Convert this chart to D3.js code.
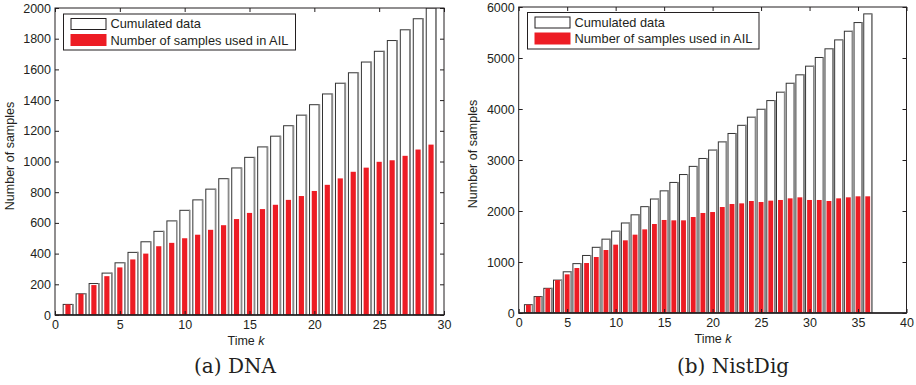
<!DOCTYPE html>
<html>
<head>
<meta charset="utf-8">
<script src="https://cdn.jsdelivr.net/npm/d3@7"></script>
<style>
  body { margin: 0; background: #fff; }
  svg { display: block; font-family: "Liberation Sans", Arial, sans-serif; }
</style>
</head>
<body>
<svg id="chart" width="916" height="385"></svg>
<script>
// DNA panel
const dnaK = [1, 2, 3, 4, 5, 6, 7, 8, 9, 10, 11, 12, 13, 14, 15, 16, 17, 18, 19, 20, 21, 22, 23, 24, 25, 26, 27, 28, 29];
const dnaCumulated = [69, 138, 205, 273, 340, 408, 477, 545, 613, 682, 750, 820, 888, 958, 1027, 1095, 1165, 1233, 1302, 1370,
  1440, 1510, 1578, 1648, 1718, 1788, 1858, 1930, 2000];
const dnaUsed = [69, 138, 195, 253, 310, 362, 400, 448, 470, 500, 523, 555, 585, 625, 665, 690, 718, 750, 775, 808,
  848, 890, 933, 960, 998, 1008, 1037, 1078, 1110];
const dnaXTicks = [0, 5, 10, 15, 20, 25, 30];
const dnaYTicks = [0, 200, 400, 600, 800, 1000, 1200, 1400, 1600, 1800, 2000];

// NistDig panel
const nistK = [1, 2, 3, 4, 5, 6, 7, 8, 9, 10, 11, 12, 13, 14, 15, 16, 17, 18, 19, 20, 21, 22, 23, 24, 25, 26, 27, 28, 29, 30,
  31, 32, 33, 34, 35, 36];
const nistCumulated = [163, 322, 484, 645, 808, 968, 1128, 1288, 1448, 1605, 1765, 1925, 2085, 2235, 2395, 2560, 2715, 2875,
  3030, 3195, 3355, 3520, 3680, 3840, 3995, 4165, 4330, 4505, 4670, 4840, 5010, 5180, 5355, 5525, 5695, 5865];
const nistUsed = [163, 320, 484, 645, 758, 882, 980, 1098, 1235, 1340, 1425, 1536, 1640, 1745, 1824, 1817, 1817, 1882,
  1961, 1980, 2078, 2137, 2150, 2196, 2176, 2203, 2216, 2248, 2268, 2216, 2216, 2196, 2248, 2268, 2288, 2288];
const nistXTicks = [0, 5, 10, 15, 20, 25, 30, 35, 40];
const nistYTicks = [0, 1000, 2000, 3000, 4000, 5000, 6000];

const legendLabels = ['Cumulated data', 'Number of samples used in AIL'];
const red = '#ed1c24';
const ink = '#231f20';
const fontSize = 12.5;

const svg = d3.select('#chart');

function drawPanel(opts) {
  const { id, left, right, top, bottom, xMax, yMax, k, cum, used, xTicks, yTicks, wideW, thinW, legend, yLabel, xLabelX, caption } = opts;
  const x = d3.scaleLinear().domain([0, xMax]).range([left, right]);
  const y = d3.scaleLinear().domain([0, yMax]).range([bottom, top]);
  const unit = x(1) - x(0);

  svg.append('clipPath').attr('id', 'clip-' + id)
    .append('rect').attr('x', left).attr('y', top).attr('width', right - left).attr('height', bottom - top);

  const g = svg.append('g').attr('clip-path', `url(#clip-${id})`);
  const cumData = k.map((d, i) => ({ k: d, v: cum[i] }));

  // white cumulated bars: dark outline, grey shade on the right edge
  g.selectAll('.cum')
    .data(cumData)
    .enter().append('rect')
    .attr('x', d => x(d.k) - unit * wideW / 2)
    .attr('y', d => y(d.v))
    .attr('width', unit * wideW)
    .attr('height', d => y(0) - y(d.v))
    .attr('fill', '#fff')
    .attr('stroke', '#333')
    .attr('stroke-width', 1);
  g.selectAll('.shade')
    .data(cumData)
    .enter().append('line')
    .attr('x1', d => x(d.k) + unit * wideW / 2 + 0.3)
    .attr('x2', d => x(d.k) + unit * wideW / 2 + 0.3)
    .attr('y1', d => y(d.v) - 0.5)
    .attr('y2', y(0))
    .attr('stroke', '#8a8a8a')
    .attr('stroke-width', 1.6);

  // red bars
  g.selectAll('.used')
    .data(k.map((d, i) => ({ k: d, v: used[i] })))
    .enter().append('rect')
    .attr('x', d => x(d.k) - unit * thinW / 2)
    .attr('y', d => y(d.v))
    .attr('width', unit * thinW)
    .attr('height', d => y(0) - y(d.v))
    .attr('fill', red);

  // axes with inward ticks
  const fmt = d3.format('d');
  const xb = svg.append('g').attr('transform', `translate(0,${bottom})`)
    .call(d3.axisBottom(x).tickValues(xTicks).tickFormat(fmt).tickSizeInner(-4).tickSizeOuter(0).tickPadding(5));
  const xt = svg.append('g').attr('transform', `translate(0,${top})`)
    .call(d3.axisTop(x).tickValues(xTicks).tickSizeInner(-4).tickSizeOuter(0).tickFormat(''));
  const yl = svg.append('g').attr('transform', `translate(${left},0)`)
    .call(d3.axisLeft(y).tickValues(yTicks).tickFormat(fmt).tickSizeInner(-4).tickSizeOuter(0).tickPadding(4));
  const yr = svg.append('g').attr('transform', `translate(${right},0)`)
    .call(d3.axisRight(y).tickValues(yTicks).tickSizeInner(-4).tickSizeOuter(0).tickFormat(''));
  [xb, xt, yl, yr].forEach(a => {
    a.select('.domain').remove();
    a.selectAll('line').attr('stroke', ink);
    a.selectAll('text')
      .attr('font-family', '"Liberation Sans", Arial, sans-serif')
      .attr('font-size', fontSize)
      .attr('fill', ink);
  });

  svg.append('rect')
    .attr('x', left).attr('y', top).attr('width', right - left).attr('height', bottom - top)
    .attr('fill', 'none').attr('stroke', ink).attr('stroke-width', 1);
  svg.append('line')
    .attr('x1', left).attr('x2', right).attr('y1', bottom).attr('y2', bottom)
    .attr('stroke', ink).attr('stroke-width', 1.6);

  // legend
  const lg = svg.append('g');
  lg.append('rect')
    .attr('x', legend.x).attr('y', legend.y).attr('width', legend.w).attr('height', legend.h)
    .attr('fill', '#fff').attr('stroke', ink).attr('stroke-width', 1);
  lg.append('rect')
    .attr('x', legend.x + 7.5).attr('y', legend.y + 4.5).attr('width', 35).attr('height', 11)
    .attr('fill', '#fff').attr('stroke', ink).attr('stroke-width', 1);
  lg.append('rect')
    .attr('x', legend.x + 7).attr('y', legend.y + 20).attr('width', 36).attr('height', 12)
    .attr('fill', red);
  lg.selectAll('.lt')
    .data(legendLabels)
    .enter().append('text')
    .attr('x', legend.x + 47)
    .attr('y', (d, i) => legend.y + 14 + i * 16.5)
    .attr('font-size', 12.8)
    .attr('fill', ink)
    .text(d => d);

  // axis titles
  const xl = svg.append('text')
    .attr('x', xLabelX).attr('y', bottom + 30)
    .attr('text-anchor', 'middle').attr('font-size', fontSize).attr('fill', ink);
  xl.append('tspan').text('Time ');
  xl.append('tspan').attr('font-style', 'italic').text('k');

  svg.append('text')
    .attr('transform', `translate(${yLabel.x},${yLabel.y}) rotate(-90)`)
    .attr('text-anchor', 'middle').attr('font-size', fontSize).attr('fill', ink)
    .text('Number of samples');

  svg.append('text')
    .attr('x', caption.x).attr('y', 373)
    .attr('text-anchor', 'middle')
    .attr('font-family', '"DejaVu Serif", "Liberation Serif", serif')
    .attr('font-size', 20)
    .attr('fill', ink)
    .text(caption.text);
}

drawPanel({
  id: 'dna', left: 55, right: 444, top: 8, bottom: 315, xMax: 30, yMax: 2000,
  k: dnaK, cum: dnaCumulated, used: dnaUsed, xTicks: dnaXTicks, yTicks: dnaYTicks,
  wideW: 0.74, thinW: 0.4,
  legend: { x: 63.5, y: 14, w: 232, h: 36 },
  yLabel: { x: 14, y: 156 },
  xLabelX: 246,
  caption: { x: 235, text: '(a) DNA' }
});

drawPanel({
  id: 'nist', left: 518.7, right: 906.5, top: 7, bottom: 313, xMax: 40, yMax: 6000,
  k: nistK, cum: nistCumulated, used: nistUsed, xTicks: nistXTicks, yTicks: nistYTicks,
  wideW: 0.82, thinW: 0.5,
  legend: { x: 527.5, y: 12.5, w: 231.5, h: 36.5 },
  yLabel: { x: 477, y: 154 },
  xLabelX: 713,
  caption: { x: 733, text: '(b) NistDig' }
});
</script>
</body>
</html>
